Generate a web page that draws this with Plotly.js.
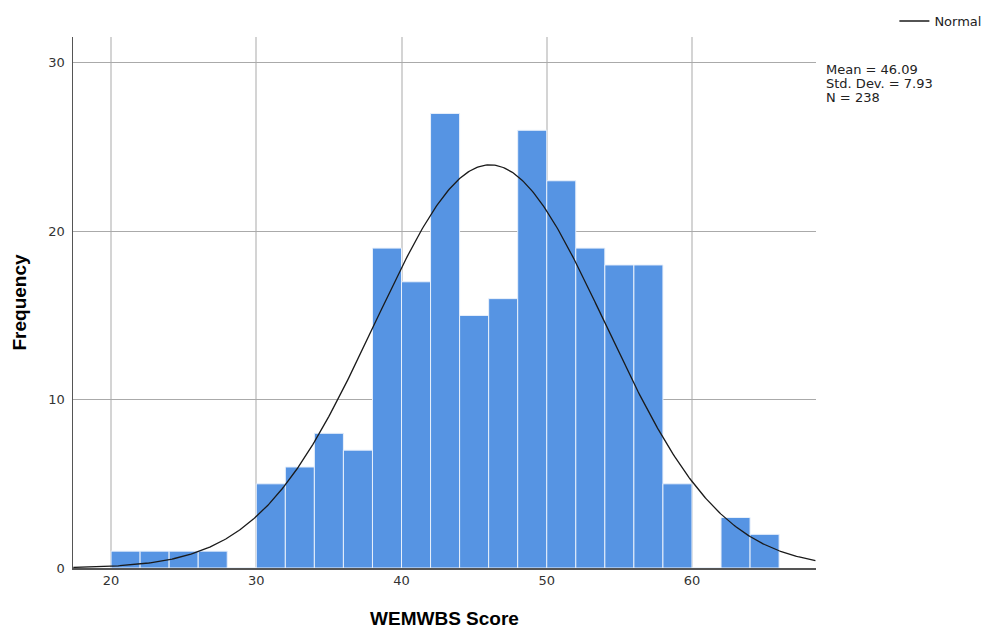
<!DOCTYPE html>
<html>
<head>
<meta charset="utf-8">
<script src="https://cdn.plot.ly/plotly-3.0.1.min.js"></script>
<style>html,body{margin:0;padding:0;background:#fff;}#chart{width:984px;height:629px;}</style>
</head>
<body>
<div id="chart"></div>
<script>
// Histogram bins (centres, width 2) and frequencies
const binCenters = [21, 23, 25, 27, 29, 31, 33, 35, 37, 39, 41, 43, 45, 47, 49, 51, 53, 55, 57, 59, 61, 63, 65];
const frequencies = [1, 1, 1, 1, 0, 5, 6, 8, 7, 19, 17, 27, 15, 16, 26, 23, 19, 18, 18, 5, 0, 3, 2];
const binWidth = 2;
// Summary statistics shown on the chart
const mean = 46.09;
const stdDev = 7.93;
const nObs = 238;
const xTicks = [20, 30, 40, 50, 60];
const yTicks = [0, 10, 20, 30];
const statsLines = ['Mean = ' + mean.toFixed(2), 'Std. Dev. = ' + stdDev.toFixed(2), 'N = ' + nObs];

// Fitted normal curve defined by the stated mean / SD / N
const curveX = [];
const curveY = [];
for (let x = 17.4; x <= 68.55; x += 0.1) {
  curveX.push(x);
  const z = (x - mean) / stdDev;
  curveY.push(nObs * binWidth * Math.exp(-0.5 * z * z) / (stdDev * Math.sqrt(2 * Math.PI)));
}

const bars = {
  type: 'bar',
  x: binCenters,
  y: frequencies,
  width: binWidth,
  marker: {color: '#5694E3', line: {color: '#E8F0FB', width: 1}},
  showlegend: false,
  hoverinfo: 'skip'
};
const normal = {
  type: 'scatter',
  mode: 'lines',
  name: 'Normal',
  x: curveX,
  y: curveY,
  line: {color: '#1a1a1a', width: 1.3},
  hoverinfo: 'skip'
};

const font = 'DejaVu Sans, Liberation Sans, sans-serif';
const layout = {
  width: 984, height: 629,
  margin: {l: 73, r: 168, t: 37, b: 61, autoexpand: false},
  paper_bgcolor: '#fff', plot_bgcolor: '#fff',
  bargap: 0,
  font: {family: font, size: 12, color: '#333'},
  xaxis: {
    range: [17.38, 68.54],
    tickvals: xTicks, ticktext: xTicks.map(String),
    showgrid: true, gridcolor: '#d4d4d4', gridwidth: 2,
    zeroline: false, showline: true, linecolor: '#555', linewidth: 1.5,
    ticks: '', tickfont: {size: 13, color: '#333', family: font},
    title: {text: 'WEMWBS Score', font: {family: 'Liberation Sans, Arial, sans-serif', size: 19, color: '#000', weight: 'bold'}, standoff: 26}
  },
  yaxis: {
    range: [0, 31.54],
    tickvals: yTicks, ticktext: yTicks.map(String),
    showgrid: true, gridcolor: '#aaaaaa', gridwidth: 1,
    zeroline: false, showline: true, linecolor: '#555', linewidth: 1.5,
    ticks: '', ticklabelstandoff: 4, tickfont: {size: 13, color: '#333', family: font},
    title: {text: 'Frequency', font: {family: 'Liberation Sans, Arial, sans-serif', size: 19, color: '#000', weight: 'bold'}, standoff: 16}
  },
  showlegend: true,
  legend: {
    x: 1.1055, y: 1.03, xanchor: 'left', yanchor: 'middle',
    font: {size: 13, color: '#222', family: font},
    bgcolor: 'rgba(0,0,0,0)', itemwidth: 30
  },
  annotations: statsLines.map((t, i) => ({
    xref: 'paper', yref: 'paper', x: 1.011, y: 0.938 - i * 0.0264,
    xanchor: 'left', yanchor: 'middle', align: 'left', showarrow: false,
    text: t,
    font: {size: 13, color: '#222', family: font}
  }))
};

Plotly.newPlot('chart', [bars, normal], layout, {displayModeBar: false, staticPlot: true});
</script>
</body>
</html>
